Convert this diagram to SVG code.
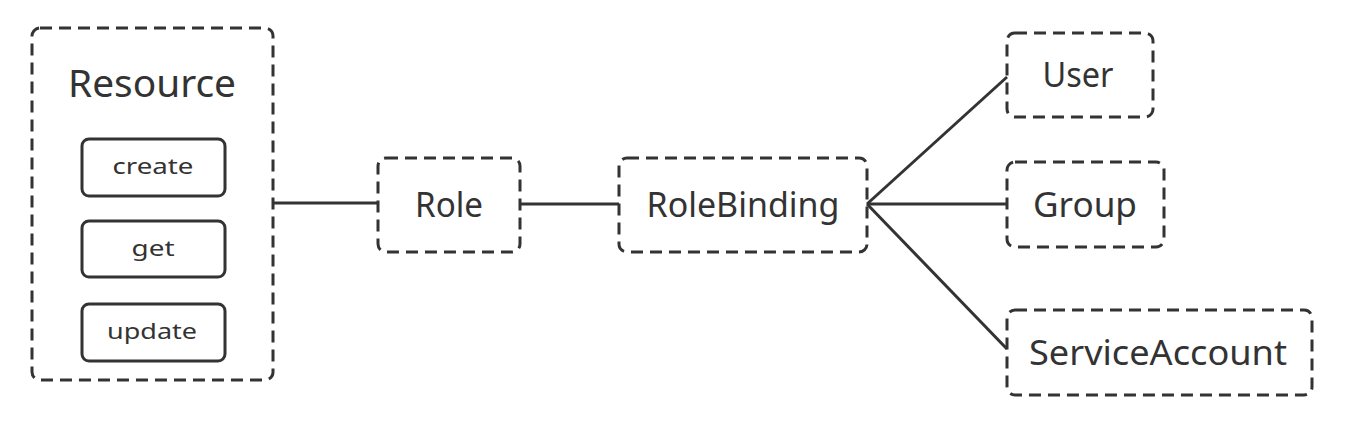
<svg xmlns="http://www.w3.org/2000/svg" width="1357" height="434" viewBox="0 0 1357 434">
<style>
.dbox{fill:none;stroke:#333;stroke-width:3;stroke-dasharray:12 7}
.sbox{fill:none;stroke:#333;stroke-width:3}
.conn{stroke:#333;stroke-width:3;fill:none}
text{font-family:"Noto Sans","Open Sans",sans-serif;fill:#333;text-anchor:middle;dominant-baseline:central}
.big{font-size:38px}
.mid{font-size:35px}
.sm{font-size:22px}
</style>
<rect width="1357" height="434" fill="#fff"/>
<g id="connectors">
<line class="conn" x1="273" y1="203" x2="378" y2="203"/>
<line class="conn" x1="520" y1="204" x2="619" y2="204"/>
<line class="conn" x1="867" y1="204" x2="1007" y2="77"/>
<line class="conn" x1="867" y1="204" x2="1007" y2="204"/>
<line class="conn" x1="867" y1="204" x2="1007" y2="349"/>
</g>
<g id="resource">
<rect class="dbox" x="32" y="28" width="241" height="352" rx="8"/>
<text class="big" x="152" y="82" textLength="168" lengthAdjust="spacingAndGlyphs">Resource</text>
</g>
<g id="create">
<rect class="sbox" x="82" y="139" width="143" height="57" rx="7"/>
<text class="sm" x="153" y="165" textLength="81" lengthAdjust="spacingAndGlyphs">create</text>
</g>
<g id="get">
<rect class="sbox" x="82" y="221" width="143" height="56" rx="7"/>
<text class="sm" x="153" y="247" textLength="43" lengthAdjust="spacingAndGlyphs">get</text>
</g>
<g id="update">
<rect class="sbox" x="82" y="304" width="143" height="57" rx="7"/>
<text class="sm" x="152" y="330" textLength="90" lengthAdjust="spacingAndGlyphs">update</text>
</g>
<g id="role">
<rect class="dbox" x="378" y="158" width="142" height="94" rx="8"/>
<text class="mid" x="449" y="203" textLength="68" lengthAdjust="spacingAndGlyphs">Role</text>
</g>
<g id="rolebinding">
<rect class="dbox" x="619" y="158" width="248" height="94" rx="8"/>
<text class="mid" x="743" y="203" textLength="193" lengthAdjust="spacingAndGlyphs">RoleBinding</text>
</g>
<g id="user">
<rect class="dbox" x="1007" y="33" width="146" height="84" rx="8"/>
<text class="mid" x="1078" y="73" textLength="71" lengthAdjust="spacingAndGlyphs">User</text>
</g>
<g id="group">
<rect class="dbox" x="1007" y="162" width="157" height="85" rx="8"/>
<text class="mid" x="1085" y="203" textLength="104" lengthAdjust="spacingAndGlyphs">Group</text>
</g>
<g id="serviceaccount">
<rect class="dbox" x="1007" y="310" width="305" height="85" rx="8"/>
<text class="mid" x="1158" y="351" textLength="258" lengthAdjust="spacingAndGlyphs">ServiceAccount</text>
</g>
</svg>
